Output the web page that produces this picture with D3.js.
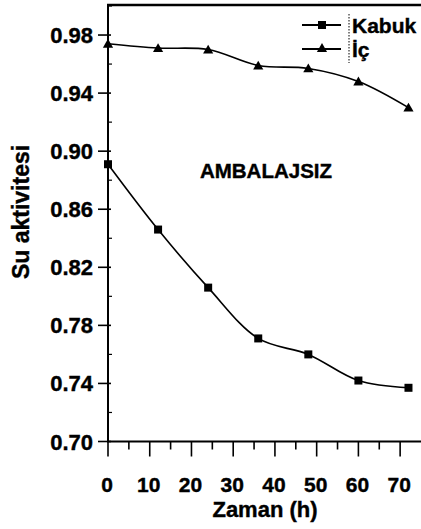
<!DOCTYPE html>
<html>
<head>
<meta charset="utf-8">
<script src="https://cdn.jsdelivr.net/npm/d3@7"></script>
<style>
  body { margin: 0; background: #fff; }
  svg text { font-family: "Liberation Sans", Arial, sans-serif; font-weight: bold; fill: #000; stroke: #000; stroke-width: 0.4; }
</style>
</head>
<body>
<script>
// data
var times = [0, 12, 24, 36, 48, 60, 72];
var kabuk = [0.891, 0.846, 0.806, 0.771, 0.760, 0.742, 0.737];
var ic = [0.974, 0.971, 0.970, 0.959, 0.957, 0.948, 0.930];
var xTicks = [0, 10, 20, 30, 40, 50, 60, 70];
var yTicks = [0.70, 0.74, 0.78, 0.82, 0.86, 0.90, 0.94, 0.98];

var W = 421, H = 529;
var mLeft = 108, mRight = 421, mTop = 6, mBottom = 441.5;

var svg = d3.select("body").append("svg")
    .attr("width", W)
    .attr("height", H);

var x = d3.scaleLinear().domain([0, 75]).range([mLeft, mRight]);
var y = d3.scaleLinear().domain([0.70, 1.00]).range([mBottom, mTop]);

// x axis - long ticks every 10, short every 5
var gx = svg.append("g").attr("transform", "translate(0," + mBottom + ")");
gx.append("line").attr("x1", mLeft - 1).attr("x2", mRight).attr("stroke", "#000").attr("stroke-width", 2);
gx.selectAll("line.t").data(d3.range(0, 75, 5)).enter().append("line")
    .attr("class", "t")
    .attr("x1", function(d) { return x(d); })
    .attr("x2", function(d) { return x(d); })
    .attr("y1", 0)
    .attr("y2", function(d) { return d % 10 == 0 ? 15 : 8; })
    .attr("stroke", "#000").attr("stroke-width", 1.6);
gx.selectAll("text").data(xTicks).enter().append("text")
    .attr("x", function(d) { return x(d) - 1; })
    .attr("y", 50)
    .attr("text-anchor", "middle")
    .attr("font-size", 21)
    .text(function(d) { return d; });

// y axis
var gy = svg.append("g");
gy.append("line").attr("x1", mLeft).attr("x2", mLeft).attr("y1", mTop - 1).attr("y2", mBottom)
    .attr("stroke", "#000").attr("stroke-width", 2);
gy.selectAll("line.t").data(yTicks).enter().append("line")
    .attr("class", "t")
    .attr("x1", mLeft - 10).attr("x2", mLeft + 3)
    .attr("y1", function(d) { return y(d); })
    .attr("y2", function(d) { return y(d); })
    .attr("stroke", "#000").attr("stroke-width", 1.6);
gy.selectAll("line.m").data(d3.range(0.72, 1.0, 0.04)).enter().append("line")
    .attr("class", "m")
    .attr("x1", mLeft).attr("x2", mLeft + 4)
    .attr("y1", function(d) { return y(d); })
    .attr("y2", function(d) { return y(d); })
    .attr("stroke", "#000").attr("stroke-width", 1.2);
gy.selectAll("text").data(yTicks).enter().append("text")
    .attr("x", mLeft - 15)
    .attr("y", function(d) { return y(d) + 8; })
    .attr("text-anchor", "end")
    .attr("font-size", 22)
    .text(function(d) { return d.toFixed(2); });

// top frame
svg.append("line").attr("x1", mLeft - 1).attr("x2", mRight).attr("y1", mTop - 1).attr("y2", mTop - 1)
    .attr("stroke", "#000").attr("stroke-width", 2.5);

// axis titles
svg.append("text")
    .attr("transform", "translate(29,212) rotate(-90)")
    .attr("text-anchor", "middle")
    .attr("font-size", 23)
    .text("Su aktivitesi");
svg.append("text")
    .attr("x", 265).attr("y", 517)
    .attr("text-anchor", "middle")
    .attr("font-size", 22)
    .text("Zaman (h)");

svg.append("text")
    .attr("x", 266).attr("y", 178)
    .attr("text-anchor", "middle")
    .attr("font-size", 20.5)
    .text("AMBALAJSIZ");

// lines
var line = d3.line()
    .x(function(d, i) { return x(times[i]); })
    .y(function(d) { return y(d); })
    .curve(d3.curveCatmullRom.alpha(0.5));

var tri = d3.symbol().type(d3.symbolTriangle).size(45);

svg.append("path").datum(kabuk).attr("d", line)
    .attr("fill", "none").attr("stroke", "#000").attr("stroke-width", 1.6);
svg.selectAll("rect.k").data(kabuk).enter().append("rect")
    .attr("class", "k")
    .attr("x", function(d, i) { return x(times[i]) - 4; })
    .attr("y", function(d) { return y(d) - 4; })
    .attr("width", 8).attr("height", 8)
    .attr("fill", "#000");

svg.append("path").datum(ic).attr("d", line)
    .attr("fill", "none").attr("stroke", "#000").attr("stroke-width", 1.6);
svg.selectAll("path.i").data(ic).enter().append("path")
    .attr("class", "i")
    .attr("d", tri)
    .attr("transform", function(d, i) { return "translate(" + x(times[i]) + "," + (y(d) + 1) + ")"; })
    .attr("fill", "#000");

// legend
var lg = svg.append("g");
lg.append("line").attr("x1", 302).attr("x2", 341).attr("y1", 25).attr("y2", 25)
    .attr("stroke", "#000").attr("stroke-width", 1.8);
lg.append("rect").attr("x", 318).attr("y", 21).attr("width", 8).attr("height", 8).attr("fill", "#000");
lg.append("line").attr("x1", 302).attr("x2", 341).attr("y1", 49).attr("y2", 49)
    .attr("stroke", "#000").attr("stroke-width", 1.8);
lg.append("path").attr("d", tri).attr("transform", "translate(322,49)").attr("fill", "#000");
lg.append("line").attr("x1", 349).attr("x2", 349).attr("y1", 14).attr("y2", 63)
    .attr("stroke", "#000").attr("stroke-width", 1).attr("stroke-dasharray", "1.5,1.5");
lg.append("text").attr("x", 352).attr("y", 33).attr("font-size", 21).text("Kabuk");
lg.append("text").attr("x", 352).attr("y", 57).attr("font-size", 21).text("İç");
</script>
</body>
</html>
